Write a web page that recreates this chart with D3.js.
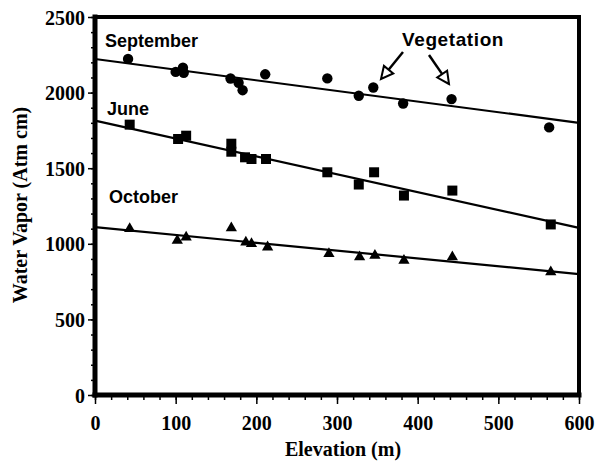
<!DOCTYPE html>
<html>
<head>
<meta charset="utf-8">
<script src="https://cdn.jsdelivr.net/npm/d3@7"></script>
<style>
body { margin: 0; background: #fff; }
svg { display: block; }
</style>
</head>
<body>
<svg width="598" height="461"></svg>
<script>
// elevation (m) vs water vapor (atm cm)
var sepX = [41, 100, 109, 110, 168, 178, 183, 211, 288, 327, 345, 382, 442, 563]
var sepY = [2223, 2137, 2164, 2131, 2093, 2065, 2016, 2121, 2094, 1979, 2034, 1928, 1957, 1770]
var junX = [43, 103, 113, 169, 169, 186, 194, 212, 288, 327, 346, 383, 443, 565]
var junY = [1788, 1693, 1715, 1662, 1609, 1572, 1561, 1561, 1473, 1392, 1473, 1319, 1352, 1128]
var octX = [43, 102, 113, 169, 187, 194, 214, 290, 328, 347, 383, 443, 565]
var octY = [1099, 1022, 1044, 1105, 1011, 1000, 978, 934, 912, 923, 890, 912, 813]
// fitted lines, end values at 0 and 600 m
var fitX = [0, 600]
var sepFit = [2222, 1800]
var junFit = [1815, 1105]
var octFit = [1110, 800]
var xTicks = [0, 100, 200, 300, 400, 500, 600]
var yTicks = [0, 500, 1000, 1500, 2000, 2500]

var svg = d3.select("svg")
var x = d3.scaleLinear().domain([0, 600]).range([95, 579])
var y = d3.scaleLinear().domain([0, 2500]).range([395, 17])
var serif = "'Liberation Serif', 'Times New Roman', serif"
var sans = "'Liberation Sans', Arial, sans-serif"
var fmt = d3.format("d")

// minor ticks first, then major
var xMinor = d3.range(0, 601, 20), yMinor = d3.range(0, 2501, 100)
svg.append("g").attr("transform", "translate(0,395)")
    .call(d3.axisBottom(x).tickValues(xMinor).tickSize(5).tickFormat(""))
svg.append("g").attr("transform", "translate(95,0)")
    .call(d3.axisLeft(y).tickValues(yMinor).tickSize(4).tickFormat(""))
var gx = svg.append("g").attr("transform", "translate(0,395)")
    .call(d3.axisBottom(x).tickValues(xTicks).tickSize(9).tickPadding(8).tickFormat(fmt))
var gy = svg.append("g").attr("transform", "translate(95,0)")
    .call(d3.axisLeft(y).tickValues(yTicks).tickSize(7).tickPadding(3).tickFormat(fmt))
svg.selectAll(".domain").remove()
svg.selectAll(".tick line").attr("stroke", "#000").attr("stroke-width", 1.5)
svg.selectAll(".tick text").attr("fill", "#000")
    .style("font-family", serif).style("font-weight", "bold").style("font-size", "20px")
gx.selectAll(".tick text").attr("dy", "0.9em")
gy.selectAll(".tick text").attr("dy", "0.35em")

// frame: heavy left/bottom, slightly lighter top/right
var frame = svg.append("g").attr("stroke", "#000").attr("stroke-linecap", "square")
frame.append("line").attr("x1", x(0)).attr("x2", x(600)).attr("y1", y(2500)).attr("y2", y(2500)).attr("stroke-width", 4)
frame.append("line").attr("x1", x(600)).attr("x2", x(600)).attr("y1", y(2500)).attr("y2", y(0)).attr("stroke-width", 4)
frame.append("line").attr("x1", x(0)).attr("x2", x(0)).attr("y1", y(2500)).attr("y2", y(0)).attr("stroke-width", 5)
frame.append("line").attr("x1", x(0)).attr("x2", x(600)).attr("y1", y(0)).attr("y2", y(0)).attr("stroke-width", 5)

// fitted lines
function fitLine(vals) {
    svg.append("path")
        .datum(fitX.map(function(d, i) { return [d, vals[i]] }))
        .attr("d", d3.line().x(function(d) { return x(d[0]) }).y(function(d) { return y(d[1]) }))
        .attr("fill", "none").attr("stroke", "#000").attr("stroke-width", 2.2)
}
fitLine(sepFit); fitLine(junFit); fitLine(octFit)

function pts(xs, ys) { return xs.map(function(d, i) { return [d, ys[i]] }) }
function marks(data, type, size) {
    svg.append("g").selectAll("path").data(data).enter().append("path")
        .attr("d", d3.symbol().type(type).size(size))
        .attr("transform", function(d) { return "translate(" + x(d[0]) + "," + y(d[1]) + ")" })
        .attr("fill", "#000")
}
marks(pts(sepX, sepY), d3.symbolCircle, 85)
marks(pts(junX, junY), d3.symbolSquare, 100)
marks(pts(octX, octY), d3.symbolTriangle, 55)

// labels
var lab = function(t, px, py, sz, ls) {
    svg.append("text").attr("x", px).attr("y", py).text(t)
        .style("font-family", sans).style("font-weight", "bold").style("font-size", sz + "px")
        .style("letter-spacing", (ls || 0) + "px")
}
lab("September", 105, 47, 18)
lab("June", 107, 115, 18)
lab("October", 109, 203, 18)
lab("Vegetation", 402, 46, 19, 0.6)

// hollow arrows pointing at vegetation points
function arrow(x0, y0, x1, y1) {
    var dx = x1 - x0, dy = y1 - y0, L = Math.sqrt(dx*dx + dy*dy)
    var ux = dx/L, uy = dy/L, hl = 12, hw = 6
    var bx = x1 - ux*hl, by = y1 - uy*hl
    svg.append("line").attr("x1", x0).attr("y1", y0).attr("x2", bx).attr("y2", by)
        .attr("stroke", "#000").attr("stroke-width", 2.5)
    svg.append("polygon")
        .attr("points", [[x1, y1], [bx - uy*hw, by + ux*hw], [bx + uy*hw, by - ux*hw]].join(" "))
        .attr("fill", "#fff").attr("stroke", "#000").attr("stroke-width", 2)
}
arrow(403, 52, 381, 79)
arrow(429, 55, 449, 84)

// axis titles
svg.append("text").attr("x", 343).attr("y", 456).attr("text-anchor", "middle").text("Elevation (m)")
    .style("font-family", serif).style("font-weight", "bold").style("font-size", "20px")
svg.append("text").attr("transform", "translate(27,205) rotate(-90)").attr("text-anchor", "middle")
    .text("Water Vapor (Atm cm)")
    .style("font-family", serif).style("font-weight", "bold").style("font-size", "20px")
</script>
</body>
</html>
